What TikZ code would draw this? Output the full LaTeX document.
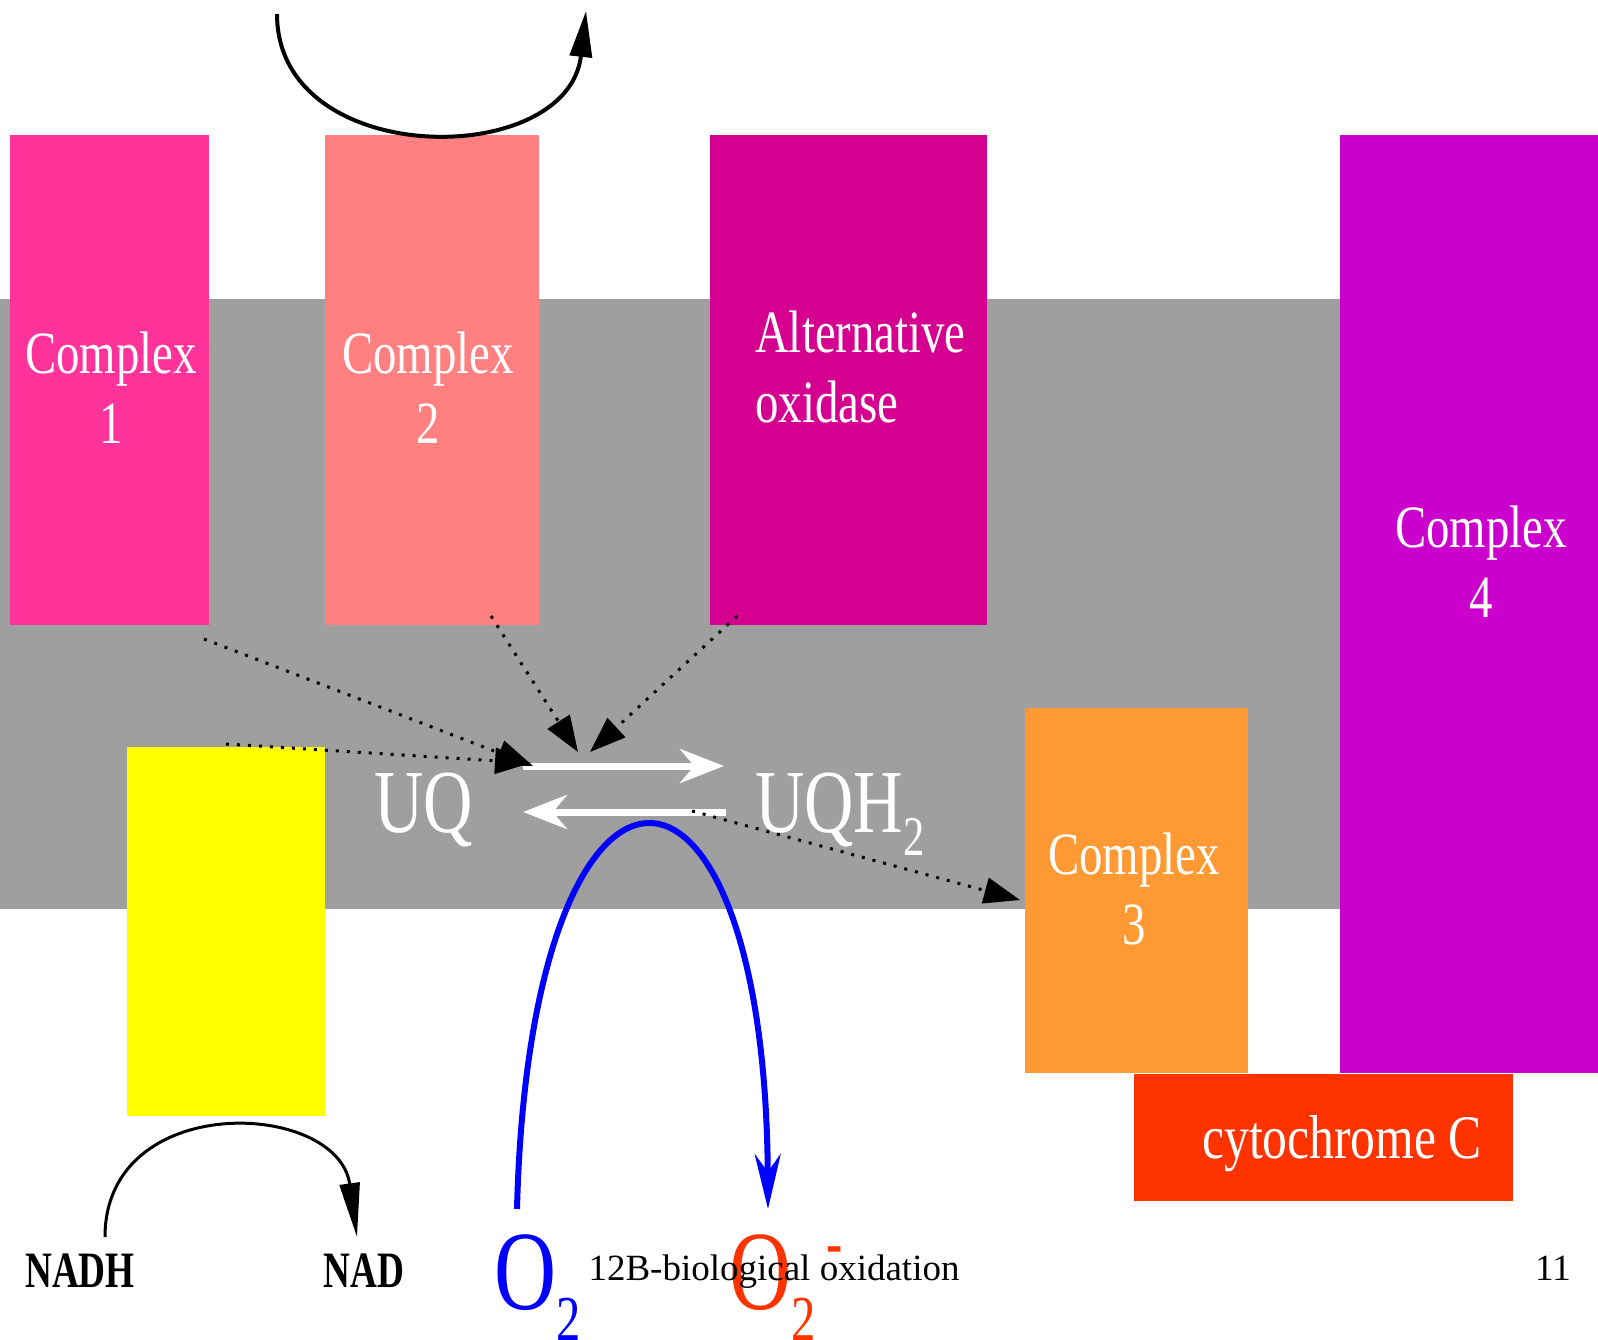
\documentclass[tikz,border=0pt]{standalone}
\usepackage{graphicx}
\usepackage{fontspec}
\setmainfont{Liberation Serif}
\usetikzlibrary{arrows.meta}

\definecolor{membranegrey}{HTML}{9F9F9F}
\definecolor{cone}{HTML}{FF3399}
\definecolor{ctwo}{HTML}{FF8080}
\definecolor{aoxcol}{HTML}{D50090}
\definecolor{cthree}{HTML}{FF9933}
\definecolor{cfour}{HTML}{CC00CC}
\definecolor{cytcol}{HTML}{FF3300}
\definecolor{ndhcol}{HTML}{FFFF00}
\definecolor{oxblue}{HTML}{0000FF}

\newcommand{\narrow}[2][0.78]{\scalebox{#1}[1]{#2}}

\begin{document}
\begin{tikzpicture}[x=1pt,y=-1pt,
    box node/.style={anchor=north west,inner sep=0pt,outer sep=0pt},
    label node/.style={text=white,inner sep=0pt,align=center,anchor=north,
      font=\fontsize{60}{70}\selectfont},
    dotted arrow/.style={black,line width=3pt,dash pattern=on 3pt off 8pt,
      -{Triangle[length=36pt,width=26pt]}},
    swap arrow/.style={white,line width=7pt,-{Stealth[length=44pt,width=34pt]}},
    loop arrow/.style={black,line width=4pt,-{Triangle[length=46pt,width=22pt]}}]

\useasboundingbox (0,0) rectangle (1598,1340);

% membrane and complexes
\node[box node,fill=membranegrey,minimum width=1598pt,minimum height=610pt] (membrane) at (0,299) {};
\node[box node,fill=cone,minimum width=199pt,minimum height=490pt] (c1) at (10,135) {};
\node[box node,fill=ctwo,minimum width=214pt,minimum height=490pt] (c2) at (325,135) {};
\node[box node,fill=aoxcol,minimum width=277pt,minimum height=490pt] (aox) at (710,135) {};
\node[box node,fill=cfour,minimum width=258pt,minimum height=938pt] (c4) at (1340,135) {};
\node[box node,fill=cthree,minimum width=223pt,minimum height=365pt] (c3) at (1025,708) {};
\node[box node,fill=cytcol,minimum width=379pt,minimum height=127pt] (cyt) at (1134,1074) {};
\node[box node,fill=ndhcol,minimum width=198pt,minimum height=369pt] (ndh) at (127,747) {};

\node[label node] (c1lbl) at (111,332) {\narrow{Complex}\\\narrow{1}};
\node[label node] (c2lbl) at (428,332) {\narrow{Complex}\\\narrow{2}};
\node[label node,anchor=north west,align=left] (aoxlbl) at (755,311) {\narrow{Alternative}\\\narrow{oxidase}};
\node[label node] (c4lbl) at (1481,506) {\narrow{Complex}\\\narrow{4}};
\node[label node] (c3lbl) at (1134,833) {\narrow{Complex}\\\narrow{3}};
\node[anchor=base west,inner sep=0pt,text=white,font=\fontsize{62}{62}\selectfont] (cytlbl) at (1202,1158) {\narrow[0.8]{cytochrome C}};

% quinone pool
\node[anchor=base,inner sep=0pt,text=white,font=\fontsize{90}{90}\selectfont] (uq) at (424,832) {\narrow[0.76]{UQ}};
\node[anchor=base west,inner sep=0pt,text=white,font=\fontsize{90}{90}\selectfont] (uqh) at (755,832)
  {\narrow[0.76]{UQH\raisebox{-23pt}{\fontsize{56}{56}\selectfont 2}}};

\coordinate (fwdA) at (523,766);
\coordinate (fwdB) at (724,766);
\coordinate (revA) at (726,812);
\coordinate (revB) at (523,812);
\draw[swap arrow] (fwdA) -- (fwdB);
\draw[swap arrow] (revA) -- (revB);

% electron flow
\coordinate (c1out) at (204,639);
\coordinate (ndhout) at (226,744);
\coordinate (c2out) at (491,616);
\coordinate (aoxout) at (737,616);
\coordinate (uqhout) at (692,811);
\coordinate (poolA) at (533,766);
\coordinate (poolB) at (531,763);
\coordinate (poolC) at (578,752);
\coordinate (poolD) at (590,752);
\coordinate (c3in) at (1020,900);
\draw[dotted arrow] (c1out) -- (poolA);
\draw[dotted arrow] (ndhout) -- (poolB);
\draw[dotted arrow] (c2out) -- (poolC);
\draw[dotted arrow] (aoxout) -- (poolD);
\draw[dotted arrow] (uqhout) -- (c3in);

% proton pumping and NADH loop
\coordinate (topA) at (277,14);
\coordinate (topB) at (586,11);
\draw[loop arrow] (topA) .. controls (277,170) and (568,170) .. (topB);

\coordinate (nadhA) at (105,1237);
\coordinate (nadB) at (357,1237);
\draw[loop arrow,line width=3pt,-{Triangle[length=54pt,width=20pt]}]
  (nadhA) .. controls (105,1090) and (338,1100) .. (nadB);

\node[anchor=base,inner sep=0pt,font=\fontsize{51}{51}\selectfont\bfseries] (nadh) at (80,1287) {\narrow[0.73]{NADH}};
\node[anchor=base,inner sep=0pt,font=\fontsize{51}{51}\selectfont\bfseries] (nad) at (364,1287) {\narrow[0.73]{NAD}};

% superoxide
\coordinate (oxA) at (517,1209);
\coordinate (oxB) at (768,1209);
\draw[oxblue,line width=6pt,-{Stealth[length=55pt,width=26pt]}]
  (oxA) .. controls (530,700) and (765,700) .. (oxB);

\node[anchor=base west,inner sep=0pt,text=oxblue,font=\fontsize{113}{113}\selectfont] (o2) at (494,1309)
  {\narrow[0.76]{O\raisebox{-31pt}{\fontsize{64}{64}\selectfont 2}}};
\node[anchor=base west,inner sep=0pt,text=cytcol,font=\fontsize{113}{113}\selectfont] (o2m) at (729,1309)
  {\narrow[0.76]{O\raisebox{-31pt}{\fontsize{64}{64}\selectfont 2}\hspace{14pt}\raisebox{45pt}{\fontsize{64}{64}\selectfont\bfseries -}}};

% footer
\node[anchor=base,inner sep=0pt,font=\fontsize{37}{37}\selectfont] (footer) at (774,1280) {12B-biological oxidation};
\node[anchor=base,inner sep=0pt,font=\fontsize{37}{37}\selectfont] (page) at (1553,1280) {11};

\end{tikzpicture}
\end{document}
